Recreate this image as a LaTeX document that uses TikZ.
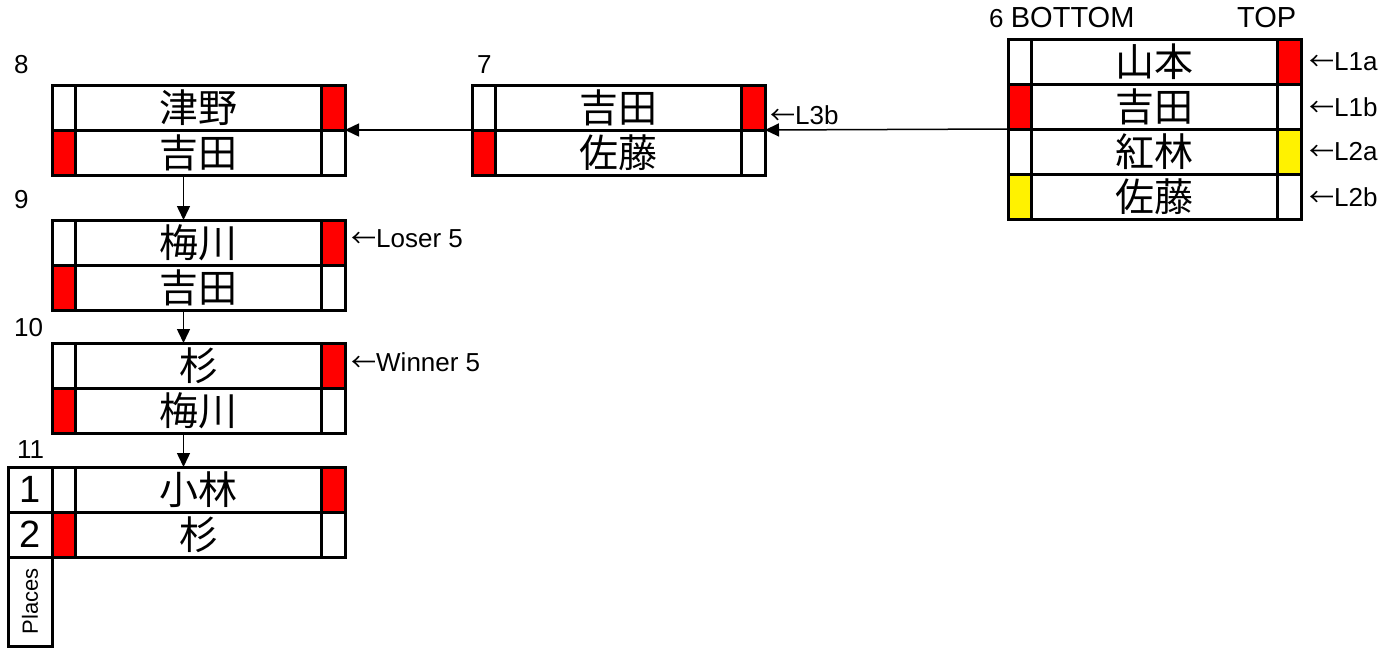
\documentclass[tikz,border=0pt]{standalone}
\usepackage{fontspec}
\setmainfont{Liberation Sans}
\newfontfamily\cjk{Noto Sans CJK JP}
\usetikzlibrary{arrows.meta,calc}
\tikzset{
 cell/.style={draw, line width=3pt, inner sep=0pt, outer sep=0pt, minimum height=45pt, anchor=north west},
 sidecell/.style={cell, minimum width=23.5pt},
 namecell/.style={cell, minimum width=246pt, font=\cjk\fontsize{39}{41}\selectfont},
 placecell/.style={cell, minimum width=44pt, font=\fontsize{38}{40}\selectfont},
 link/.style={line width=1.5pt, -{Triangle[length=14pt,width=13pt]}},
 lbl/.style={font=\fontsize{26}{28}\selectfont, inner sep=0pt, anchor=west},
 note/.style={font=\fontsize{26}{28}\selectfont, inner sep=0pt, anchor=west},
}
\newcommand\brow[6]{%
 \node[sidecell, fill=#4] (#1l) at (#2,#3) {};
 \node[namecell] (#1n) at (#1l.north east) {#5};
 \node[sidecell, fill=#6] (#1r) at (#1n.north east) {};
}
\newcommand\larr{{\cjk\fontsize{25}{27}\selectfont ←}}
\begin{document}
\begin{tikzpicture}[x=1pt,y=-1pt]
\useasboundingbox (0,0) rectangle (1386,648);
% box 6
\brow{a1}{1008}{39}{white}{山本}{red}
\brow{a2}{1008}{84}{red}{吉田}{white}
\brow{a3}{1008}{129}{white}{紅林}{yellow}
\brow{a4}{1008}{174}{yellow}{佐藤}{white}
% box 7
\brow{b1}{472}{85}{white}{吉田}{red}
\brow{b2}{472}{130}{red}{佐藤}{white}
% box 8
\brow{c1}{52}{85}{white}{津野}{red}
\brow{c2}{52}{130}{red}{吉田}{white}
% box 9
\brow{d1}{52}{220}{white}{梅川}{red}
\brow{d2}{52}{265}{red}{吉田}{white}
% box 10
\brow{e1}{52}{343}{white}{杉}{red}
\brow{e2}{52}{388}{red}{梅川}{white}
% box 11
\brow{f1}{52}{467}{white}{小林}{red}
\brow{f2}{52}{512}{red}{杉}{white}
\node[placecell] (p1) at (8,467) {1};
\node[placecell] (p2) at (8,512) {2};
\node[placecell, minimum height=89pt] (p3) at (8,557) {};
\node[rotate=90, font=\fontsize{22}{24}\selectfont, inner sep=0pt] (plc) at (p3.center) {Places};
% connectors
\draw[link] (a2l.south west) -- (b1r.south east);
\draw[link] (b1l.south west) -- (c1r.south east);
\draw[link] ([xshift=-15pt]c2n.south) -- ([xshift=-15pt]d1n.north);
\draw[link] ([xshift=-15pt]d2n.south) -- ([xshift=-15pt]e1n.north);
\draw[link] ([xshift=-15pt]e2n.south) -- ([xshift=-15pt]f1n.north);
% labels
\node[lbl] (n6) at (989,18) {6 \fontsize{29}{30}\selectfont BOTTOM};
\node[lbl, font=\fontsize{29}{30}\selectfont] (ntop) at (1237,18) {TOP};
\node[lbl] (n7) at (477,65) {7};
\node[lbl] (n8) at (14,65) {8};
\node[lbl] (n9) at (14,200) {9};
\node[lbl] (n10) at (14,328) {10};
\node[lbl] (n11) at (17,450) {11};
% notes
\node[note] (l1a) at (1309,62) {\larr L1a};
\node[note] (l1b) at (1309,107) {\larr L1b};
\node[note] (l2a) at (1309,152) {\larr L2a};
\node[note] (l2b) at (1309,197) {\larr L2b};
\node[note] (l3b) at (770,115) {\larr L3b};
\node[note] (los) at (351,239) {\larr Loser 5};
\node[note] (win) at (351,362) {\larr Winner 5};
\end{tikzpicture}
\end{document}
